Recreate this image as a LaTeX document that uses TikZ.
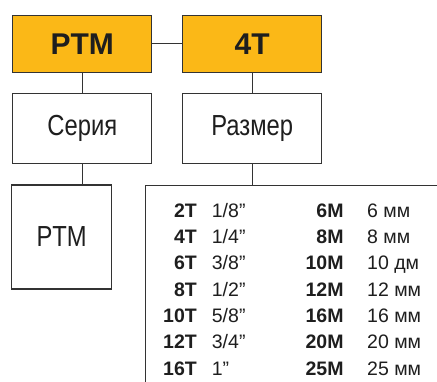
\documentclass[tikz,border=0pt]{standalone}
\usepackage{fontspec}
\setmainfont{Liberation Sans}
\newfontfamily\narrowfont[FakeStretch=0.82]{Liberation Sans}
\usetikzlibrary{positioning,calc}
\definecolor{codeorange}{HTML}{FBB817}
\definecolor{linegrey}{HTML}{333333}
\definecolor{textdark}{HTML}{1E1E1E}
\tikzset{
  codebox/.style={draw=linegrey, fill=codeorange, line width=1.1pt, minimum width=139pt, minimum height=57pt, inner sep=0pt, text=textdark, font=\fontsize{30}{36}\selectfont\bfseries},
  descbox/.style={draw=linegrey, fill=white, line width=1.1pt, minimum width=139pt, minimum height=70pt, inner sep=0pt, text=textdark, font=\narrowfont\fontsize{29}{34}\selectfont},
  link/.style={draw=linegrey, line width=1.1pt},
  code/.style={anchor=base east, inner sep=0pt, text=textdark, font=\fontsize{19.5}{22}\selectfont\bfseries},
  val/.style={anchor=base west, inner sep=0pt, text=textdark, font=\fontsize{19.5}{22}\selectfont}
}

\begin{document}
\begin{tikzpicture}[x=1pt, y=-1pt]
  \useasboundingbox (0,0) rectangle (437,381);
  \clip (0,0) rectangle (437,381);
  % top row
  \node[codebox] (series) at (82.3,43.8) {PTM};
  \node[codebox] (size) at (252.2,43.8) {4T};
  \node[descbox] (serieslbl) at (82.3,128.7) {Серия};
  \node[descbox] (sizelbl) at (252.2,128.7) {Размер};
  % bottom boxes
  \node[descbox, minimum width=100pt, minimum height=104pt] (seriesval) at (61.7,237) {PTM};
  \node[draw=linegrey, line width=1.1pt, fill=white, minimum width=320pt, minimum height=220pt, anchor=north west] (sizeval) at (145.3,185) {};
  \draw[link] (series) -- (size);
  \draw[link] (series) -- (serieslbl);
  \draw[link] (size) -- (sizelbl);
  \draw[link] (serieslbl.south) -- (serieslbl.south |- seriesval.north);
  \draw[link] (sizelbl.south) -- (sizelbl.south |- sizeval.north);
  % size table
  \foreach \tc/\tv/\mc/\mv [count=\i from 0] in {2T/1\slash 8”/6M/6 мм, 4T/1\slash 4”/8M/8 мм, 6T/3\slash 8”/10M/10 дм, 8T/1\slash 2”/12M/12 мм, 10T/5\slash 8”/16M/16 мм, 12T/3\slash 4”/20M/20 мм, 16T/1”/25M/25 мм}{
    \node[code] (tc\i) at (197,217.3+26.3*\i) {\tc};
    \node[val] (tv\i) at (211.7,217.3+26.3*\i) {\tv};
    \node[code] (mc\i) at (343.7,217.3+26.3*\i) {\mc};
    \node[val] (mv\i) at (367,217.3+26.3*\i) {\mv};
  }
\end{tikzpicture}
\end{document}
